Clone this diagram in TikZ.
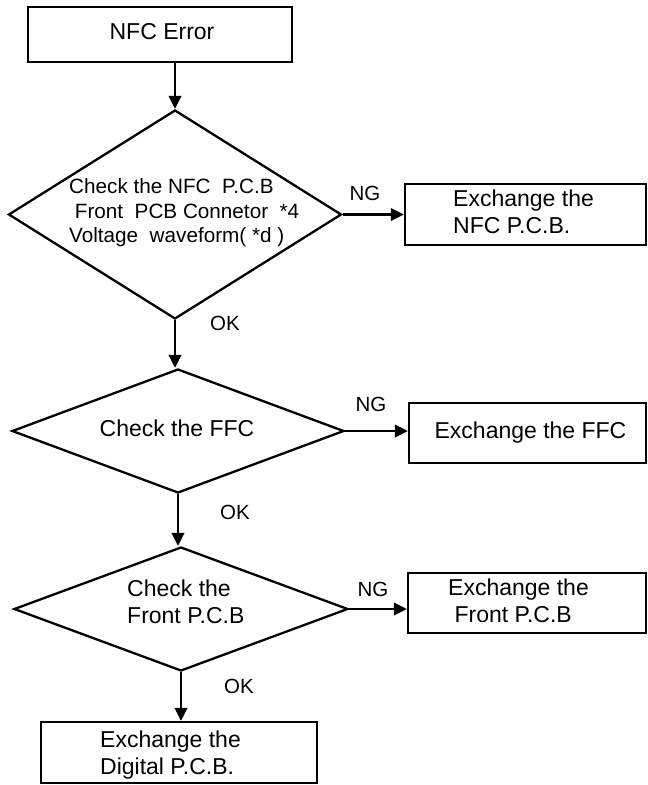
\documentclass[tikz,border=0pt]{standalone}
\usepackage{fontspec}
\setmainfont{Liberation Sans}
\usetikzlibrary{shapes.geometric,arrows.meta}

\begin{document}
\begin{tikzpicture}[x=1pt,y=-1pt,
  box/.style={draw,line width=2.3pt,inner sep=0pt},
  dia/.style={draw,diamond,line width=2.3pt,inner sep=0pt},
  txt/.style={inner sep=0pt,font=\fontsize{23}{27}\selectfont},
  txtl/.style={txt,anchor=west,align=left},
  arr/.style={line width=2.3pt,-{Triangle[length=13pt,width=12.5pt]}},
  lab/.style={inner sep=0pt,font=\fontsize{20.5}{24}\selectfont}]
  \useasboundingbox (0,0) rectangle (648,785);
  % main column: start, three checks, last exchange
  \node[box,minimum width=264pt,minimum height=55pt] (err) at (160,34.5) {};
  \node[dia,minimum width=333pt,minimum height=209pt] (chk1) at (175,214.5) {};
  \node[dia,minimum width=332pt,minimum height=124pt] (chk2) at (178,431) {};
  \node[dia,minimum width=334pt,minimum height=124pt] (chk3) at (181,609) {};
  \node[box,minimum width=276pt,minimum height=61pt] (dig) at (179,752.5) {};
  % exchange boxes on the right
  \node[box,minimum width=241pt,minimum height=61pt] (nfc) at (525.5,214.5) {};
  \node[box,minimum width=237pt,minimum height=60pt] (ffc) at (527.5,433) {};
  \node[box,minimum width=238pt,minimum height=60pt] (front) at (527,603) {};
  % texts
  \node[txt] (errtxt) at (162,32) {NFC Error};
  \node[txtl,font=\fontsize{20.7}{24.5}\selectfont] (chk1txt) at (69,213)
    {Check the NFC\ \ P.C.B\\\hspace*{5.7pt}Front\ \ PCB Connetor\ \ *4\\Voltage\ \ waveform( *d )};
  \node[txt] (chk2txt) at (177,428) {Check the FFC};
  \node[txtl] (chk3txt) at (127,602) {Check the\\Front P.C.B};
  \node[txtl] (digtxt) at (100,755) {Exchange the\\Digital P.C.B.};
  \node[txtl] (nfctxt) at (453,212) {Exchange the\\NFC P.C.B.};
  \node[txt] (ffctxt) at (530.5,433) {Exchange the FFC};
  \node[txtl] (fronttxt) at (448,601) {Exchange the\\\hspace*{6.4pt}Front P.C.B};
  % connectors
  \draw[arr] (err.south -| chk1.north) -- (chk1.north);
  \draw[arr] (chk1.south) -- (chk1.south |- chk2.north);
  \draw[arr] (chk2.south) -- (chk2.south |- chk3.north);
  \draw[arr] (chk3.south) -- (chk3.south |- dig.north);
  \draw[arr] (chk1.east) -- (chk1.east -| nfc.west);
  \draw[arr] (chk2.east) -- (chk2.east -| ffc.west);
  \draw[arr] (chk3.east) -- (chk3.east -| front.west);
  % NG / OK labels
  \foreach \name/\pos in {ng1/{(365,193)},ng2/{(371,404)},ng3/{(373,589)}}
    \node[lab] (\name) at \pos {NG};
  \foreach \name/\pos in {ok1/{(225,323)},ok2/{(235,512)},ok3/{(239,686)}}
    \node[lab] (\name) at \pos {OK};
\end{tikzpicture}
\end{document}
